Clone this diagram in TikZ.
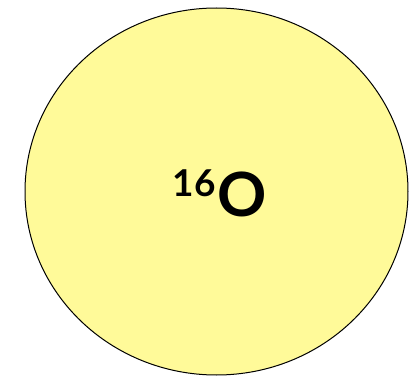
\documentclass[tikz,border=0pt]{standalone}
\usepackage{fontspec}
\setmainfont{Lato}
\usetikzlibrary{shapes.geometric}

\begin{document}
\begin{tikzpicture}[
    x=1pt, y=1pt,
    nucleus/.style={ellipse, draw=black, line width=1pt, fill=yellow!40, inner sep=0pt},
    isotope/.style={font=\bfseries, inner sep=0pt}
]
    % Rahmen
    \useasboundingbox (0,0) rectangle (413,-377);

    % Kern
    \node[nucleus, minimum width=383pt, minimum height=367pt] (core) at (216.5,-191.5) {};

    % Bezeichnung
    \node[isotope, anchor=base] (label) at (219.5,-217)
        {\raisebox{20pt}{\fontsize{37}{37}\selectfont 16}\kern1.5pt{\fontsize{61}{61}\selectfont O}};
\end{tikzpicture}
\end{document}
